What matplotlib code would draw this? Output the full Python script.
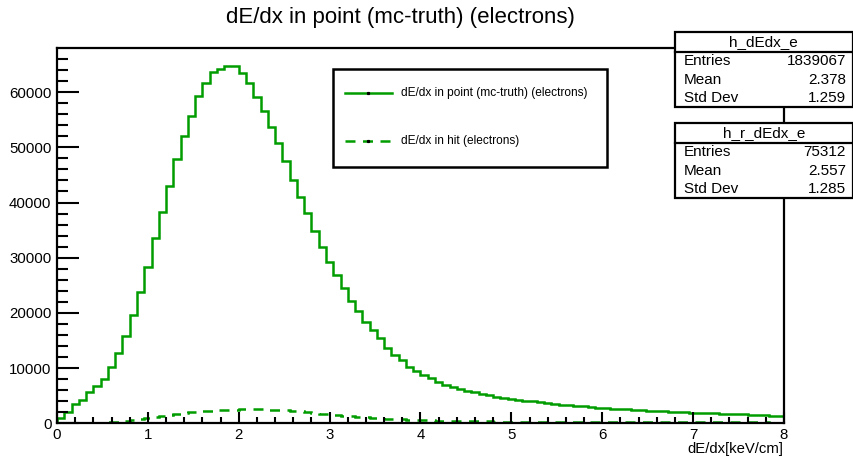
import numpy as np
import matplotlib
matplotlib.use("Agg")
import matplotlib.pyplot as plt
from matplotlib.patches import Rectangle
from matplotlib.lines import Line2D
from matplotlib.ticker import MultipleLocator

plt.rcParams['font.family'] = ['Liberation Sans', 'DejaVu Sans']

# ---------------- data ----------------
x_range = (0.0, 8.0)
n_bins = 100

# dE/dx in point (mc-truth) (electrons), counts per bin
point_counts = [
    900, 2100, 3440, 4220, 5610, 6760, 8030, 10150, 12690, 15820,
    19630, 23860, 28390, 33500, 38360, 43010, 47850, 52130, 55760, 59380,
    61630, 63730, 64220, 64760, 64760, 63440, 61630, 59090, 56660, 53760,
    50860, 47600, 44100, 41070, 38060, 34910, 32010, 29230, 26880, 24470,
    22220, 20410, 18420, 16910, 15410, 13700, 12380, 11470, 10260, 9540,
    8750, 8160, 7500, 7000, 6600, 6250, 5900, 5600, 5300, 5050,
    4850, 4650, 4450, 4250, 4100, 3950, 3800, 3650, 3500, 3350,
    3250, 3150, 3050, 2950, 2850, 2750, 2680, 2600, 2520, 2450,
    2380, 2300, 2250, 2180, 2120, 2060, 2000, 1950, 1900, 1850,
    1800, 1750, 1700, 1650, 1600, 1550, 1500, 1450, 1400, 1330,
]

# dE/dx in hit (electrons), counts per bin
hit_counts = [
    100, 80, 80, 90, 110, 140, 180, 240, 320, 430,
    580, 760, 960, 1160, 1350, 1530, 1700, 1850, 1990, 2110,
    2220, 2310, 2390, 2450, 2490, 2510, 2520, 2540, 2530, 2500,
    2440, 2360, 2260, 2150, 2030, 1900, 1770, 1640, 1510, 1390,
    1270, 1160, 1060, 970, 890, 820, 760, 700, 650, 600,
    560, 520, 490, 460, 435, 410, 390, 370, 355, 340,
    325, 315, 305, 295, 285, 278, 270, 263, 256, 250,
    244, 238, 232, 227, 222, 217, 212, 208, 204, 200,
    196, 192, 188, 185, 182, 179, 176, 173, 170, 167,
    164, 161, 158, 155, 152, 150, 148, 146, 144, 142,
]

title = "dE/dx in point (mc-truth) (electrons)"
legend_labels = ["dE/dx in point (mc-truth) (electrons)", "dE/dx in hit (electrons)"]
x_title = "dE/dx[keV/cm]"

stats = [
    ("h_dEdx_e", [("Entries", "1839067"), ("Mean", "2.378"), ("Std Dev", "1.259")]),
    ("h_r_dEdx_e", [("Entries", "75312"), ("Mean", "2.557"), ("Std Dev", "1.285")]),
]

# ---------------- figure ----------------
W, H = 854, 458
fig = plt.figure(figsize=(W / 100, H / 100), dpi=100)
fig.patch.set_facecolor("white")


def fx(px):
    return px / W


def fy(py):
    return 1 - py / H


ax_l, ax_r, ax_b, ax_t = 57, 784, 423.3, 48
ax = fig.add_axes([fx(ax_l), fy(ax_b), (ax_r - ax_l) / W, (ax_b - ax_t) / H])

green = "#009c00"
dash = (0, (4, 3))
edges = np.linspace(x_range[0], x_range[1], n_bins + 1)

ax.stairs(point_counts, edges, color=green, linewidth=1.8, baseline=0)
ax.stairs(hit_counts, edges, color=green, linewidth=1.8, baseline=None,
          linestyle=dash)

ax.set_xlim(*x_range)
ax.set_ylim(0, 1.05 * max(point_counts))

ax.xaxis.set_major_locator(MultipleLocator(1))
ax.xaxis.set_minor_locator(MultipleLocator(0.2))
ax.yaxis.set_major_locator(MultipleLocator(10000))
ax.yaxis.set_minor_locator(MultipleLocator(2000))

ax.tick_params(axis="x", which="major", direction="in", length=8, width=1.5,
               labelsize=10.8, pad=3.5, top=False)
ax.tick_params(axis="x", which="minor", direction="in", length=4, width=1.5, top=False)
ax.tick_params(axis="y", which="major", direction="in", length=16, width=1.5,
               labelsize=10.8, pad=4, right=False)
ax.tick_params(axis="y", which="minor", direction="in", length=8, width=1.5, right=False)

for s in ax.spines.values():
    s.set_linewidth(1.6)
    s.set_color("black")

fig.text(fx(783), fy(449), x_title, ha="right", va="center", fontsize=10.7)

fig.text(fx(400), fy(18), title, ha="center", va="center", fontsize=16)

# legend (drawn as a framed box with sample lines)
leg_l, leg_r, leg_t, leg_b = 333, 607, 69, 167
fig.patches.append(Rectangle((fx(leg_l), fy(leg_b)), (leg_r - leg_l) / W,
                             (leg_b - leg_t) / H, transform=fig.transFigure,
                             facecolor="white", edgecolor="black", linewidth=1.8,
                             zorder=5))
for lbl, ls, yy in zip(legend_labels, ["-", dash], [93.3, 140.7]):
    fig.add_artist(Line2D([fx(345), fx(392)], [fy(yy), fy(yy)], transform=fig.transFigure,
                          color=green, lw=1.8, linestyle=ls, zorder=6))
    fig.add_artist(Line2D([fx(368.5)], [fy(yy)], transform=fig.transFigure,
                          marker="s", markersize=1.3, color="black", lw=0, zorder=7))
    fig.text(fx(401), fy(yy), lbl, ha="left", va="center", fontsize=8.6, zorder=7)

# stats boxes
box_l, box_r = 674.5, 853
boxes_y = [(31.7, 52.3, 107.3), (122.7, 143.3, 198.3)]
for (name, rows), (top, hdr, bot) in zip(stats, boxes_y):
    fig.patches.append(Rectangle((fx(box_l), fy(bot)), (box_r - box_l) / W, (bot - top) / H,
                                 transform=fig.transFigure, facecolor="white",
                                 edgecolor="black", linewidth=1.6, zorder=5))
    fig.add_artist(Line2D([fx(box_l), fx(box_r)], [fy(hdr), fy(hdr)],
                          transform=fig.transFigure, color="black", lw=1.6, zorder=6))
    fig.text(fx((box_l + box_r) / 2), fy((top + hdr) / 2), name, ha="center",
             va="center", fontsize=11, zorder=7)
    row_h = (bot - hdr) / len(rows)
    for i, (k, v) in enumerate(rows):
        yc = hdr + row_h * (i + 0.5)
        fig.text(fx(684), fy(yc), k, ha="left", va="center", fontsize=11, zorder=7)
        fig.text(fx(846), fy(yc), v, ha="right", va="center", fontsize=11, zorder=7)

fig.savefig("out.png", dpi=100)
